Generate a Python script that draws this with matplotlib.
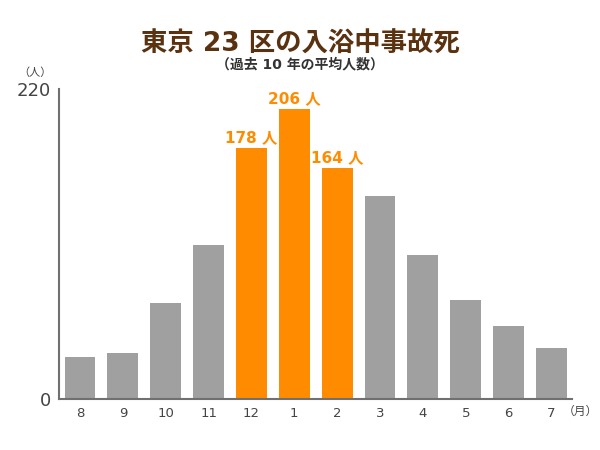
import matplotlib
matplotlib.use("Agg")
import matplotlib.pyplot as plt

plt.rcParams['font.family'] = ['DejaVu Sans', 'Noto Sans CJK JP']

months = ["8", "9", "10", "11", "12", "1", "2", "3", "4", "5", "6", "7"]
deaths = [30, 33, 68, 109, 178, 206, 164, 144, 102, 70, 52, 36]
highlight = ["12", "1", "2"]
y_ticks = [0, 220]
title = "東京 23 区の入浴中事故死"
subtitle = "（過去 10 年の平均人数）"

GRAY = "#a0a0a0"
ORANGE = "#ff8c00"

fig = plt.figure(figsize=(6, 4.5), dpi=100)
ax = fig.add_axes([59/600, 1-399/450, (572-59)/600, (399-89)/450])

x = list(range(len(months)))
colors = [ORANGE if m in highlight else GRAY for m in months]
ax.bar(x, deaths, width=0.72, color=colors, zorder=2)

for xi, m, v in zip(x, months, deaths):
    if m in highlight:
        ax.text(xi, v + 2, f"{v} 人", ha="center", va="bottom",
                color=ORANGE, fontsize=11, fontweight="bold")

ax.set_xlim(-0.49, 11.48)
ax.set_ylim(0, 220)
ax.set_xticks(x)
ax.set_xticklabels(months)
ax.set_yticks(y_ticks)
ax.set_yticklabels([str(t) for t in y_ticks])
ax.tick_params(axis="x", length=0, pad=6, labelsize=9.5, labelcolor="#444444")
ax.tick_params(axis="y", length=0, pad=6, labelsize=13, labelcolor="#444444")
for s in ["top", "right"]:
    ax.spines[s].set_visible(False)
for s in ["left", "bottom"]:
    ax.spines[s].set_color("#707070")
    ax.spines[s].set_linewidth(1.5)

fig.text(0.5, 1-45/450, title, ha="center", va="center",
         fontsize=19, fontweight="bold", color="#5a3210")
fig.text(0.5, 1-64/450, subtitle, ha="center", va="center",
         fontsize=10, fontweight="bold", color="#333333")
fig.text(35/600, 1-73/450, "（人）", ha="center", va="center",
         fontsize=8, color="#444444")
fig.text(580/600, 1-411/450, "（月）", ha="center", va="center",
         fontsize=8.5, color="#444444")

fig.savefig("out.png", dpi=100)
